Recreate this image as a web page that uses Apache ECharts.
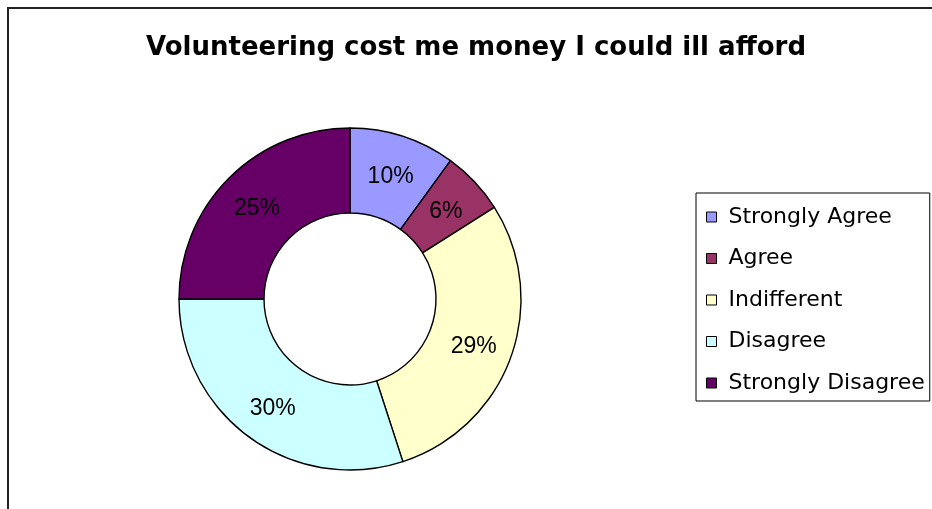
<!DOCTYPE html>
<html>
<head>
<meta charset="utf-8">
<title>Volunteering cost me money I could ill afford</title>
<script src="https://cdn.jsdelivr.net/npm/echarts@6/dist/echarts.min.js"></script>
<style>
  html, body { margin: 0; padding: 0; background: #fff; }
  #chart { width: 932px; height: 509px; }
</style>
</head>
<body>
<div id="chart"></div>
<script>
// Survey answers and their shares (percent)
const categories = ['Strongly Agree', 'Agree', 'Indifferent', 'Disagree', 'Strongly Disagree'];
const shares = [10, 6, 29, 30, 25];
const palette = ['#9999FF', '#993366', '#FFFFCC', '#CCFFFF', '#660066'];
const chartTitle = 'Volunteering cost me money I could ill afford';

const chart = echarts.init(document.getElementById('chart'), null, { renderer: 'canvas' });

chart.setOption({
  animation: false,
  backgroundColor: '#ffffff',
  color: palette,
  title: {
    text: chartTitle,
    left: 471,
    textAlign: 'center',
    top: 30,
    textStyle: {
      fontFamily: 'DejaVu Sans',
      fontWeight: 'bold',
      fontSize: 26,
      color: '#000'
    }
  },
  legend: {
    orient: 'vertical',
    left: 696,
    top: 193,
    padding: [13, 5, 7, 10],
    borderColor: '#000',
    borderWidth: 1,
    itemWidth: 10,
    itemHeight: 10,
    itemGap: 19.5,
    icon: 'rect',
    selectedMode: false,
    itemStyle: { borderColor: '#000', borderWidth: 1 },
    textStyle: {
      fontFamily: 'DejaVu Sans',
      fontSize: 22,
      lineHeight: 22,
      color: '#000',
      padding: [0, 0, 0, 7]
    },
    data: categories
  },
  graphic: [{
    type: 'rect',
    silent: true,
    shape: { x: 8, y: 8, width: 1000, height: 1000 },
    style: { fill: 'none', stroke: '#222', lineWidth: 2 }
  }],
  series: [{
    type: 'pie',
    center: [350, 299],
    radius: [86, 171],
    startAngle: 90,
    clockwise: true,
    avoidLabelOverlap: false,
    itemStyle: { borderColor: '#000', borderWidth: 1.4 },
    label: {
      show: true,
      position: 'inside',
      formatter: '{c}%',
      fontFamily: 'Liberation Sans, Arial',
      fontSize: 23,
      color: '#000',
      offset: [0, 3]
    },
    labelLine: { show: false },
    emphasis: { disabled: true },
    data: categories.map((name, i) => ({ name, value: shares[i] }))
  }]
});
</script>
</body>
</html>
